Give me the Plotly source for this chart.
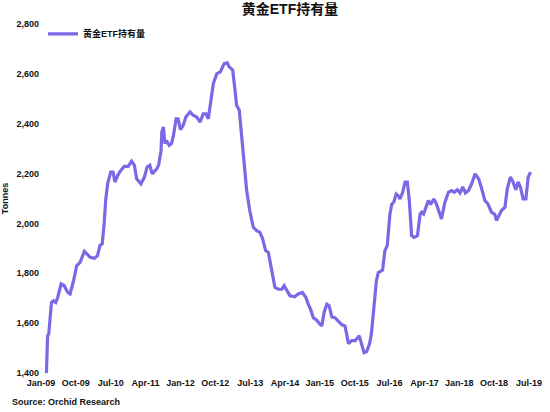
import plotly.graph_objects as go

# 月序号（0 = 2009年1月），按图上读取的点
month_idx = [
    1.4, 1.7, 2.0, 2.7, 3.2, 3.8, 4.3, 5.2, 6.0, 6.9, 7.5, 8.4, 9.2, 10.1,
    11.2, 11.8, 12.7, 13.8, 14.6, 15.2, 15.8, 16.3, 16.7, 17.2, 18.0, 18.6,
    19.1, 19.8, 20.6, 21.5, 22.5, 23.4, 24.1, 24.7, 25.8, 26.7, 27.4, 28.1,
    28.7, 29.9, 30.4, 31.0, 31.2, 31.6, 32.0, 32.4, 33.1, 33.7, 34.2, 34.9,
    35.4, 36.0, 36.7, 37.4, 38.5, 39.3, 40.2, 41.1, 41.9, 42.6, 43.2, 43.7,
    44.5, 45.4, 46.3, 47.3, 48.1, 48.6, 49.5, 50.1, 50.5, 51.2, 51.8, 52.4,
    53.1, 53.9, 54.8, 55.7, 56.5, 57.2, 58.0, 58.7, 59.6, 60.4, 61.3, 62.2,
    62.8, 63.5, 64.3, 65.5, 66.4, 67.5, 68.4, 69.0, 69.6, 70.3, 71.2, 72.0,
    72.5, 73.1, 73.8, 74.4, 75.1, 75.9, 76.8, 77.7, 78.5, 79.4, 80.3, 81.1,
    82.2, 82.7, 83.4, 84.1, 84.8, 85.3, 86.0, 86.6, 87.1, 88.2, 88.8, 89.4,
    90.1, 90.6, 91.1, 91.7, 92.3, 92.7, 93.4, 94.0, 94.6, 95.1, 95.7, 96.3,
    97.2, 97.9, 98.3, 98.8, 99.4, 100.0, 100.6, 101.4, 102.1, 103.0, 103.4,
    104.3, 105.2, 106.0, 106.7, 107.5, 108.2, 108.9, 109.6, 110.4, 111.2,
    112.1, 113.0, 113.8, 114.6, 115.4, 116.3, 117.2, 117.6, 118.2, 118.9,
    119.8, 120.4, 121.2, 121.9, 122.6, 123.2, 123.8, 124.5, 125.2, 125.8, 126.4,
]

tonnes = [
    1400, 1549, 1557, 1683, 1690, 1683, 1703, 1757, 1750, 1723, 1717, 1770, 1830, 1844,
    1888, 1877, 1864, 1860, 1871, 1911, 1918, 1998, 2092, 2159, 2206, 2206,
    2166, 2193, 2213, 2229, 2229, 2250, 2233, 2179, 2159, 2186, 2226, 2233,
    2199, 2219, 2236, 2293, 2367, 2387, 2320, 2333, 2313, 2320, 2353, 2420,
    2420, 2376, 2393, 2427, 2447, 2434, 2427, 2407, 2440, 2440, 2420, 2474,
    2561, 2601, 2608, 2641, 2644, 2628, 2615, 2534, 2474, 2454, 2347, 2226,
    2132, 2052, 1985, 1971, 1964, 1940, 1891, 1884, 1810, 1743, 1736, 1736,
    1750, 1730, 1710, 1706, 1717, 1723, 1703, 1676, 1656, 1622, 1612, 1596,
    1589, 1643, 1676, 1670, 1625, 1622, 1609, 1593, 1589, 1518, 1531, 1529,
    1549, 1522, 1482, 1486, 1515, 1555, 1663, 1770, 1803, 1813, 1891, 1911,
    2038, 2078, 2085, 2118, 2110, 2098, 2125, 2166, 2166, 2092, 1951, 1944,
    1951, 2038, 2045, 2038, 2065, 2092, 2076, 2098, 2078, 2031, 2018,
    2085, 2125, 2132, 2125, 2135, 2122, 2146, 2122, 2132, 2159,
    2199, 2179, 2139, 2092, 2078, 2045, 2036, 2012, 2030, 2052,
    2065, 2139, 2186, 2166, 2135, 2166, 2146, 2098, 2098, 2186, 2206,
]

tick_months = [0, 9, 18, 27, 36, 45, 54, 63, 72, 81, 90, 99, 108, 117, 126]
tick_labels = ["Jan-09", "Oct-09", "Jul-10", "Apr-11", "Jan-12", "Oct-12", "Jul-13",
               "Apr-14", "Jan-15", "Oct-15", "Jul-16", "Apr-17", "Jan-18", "Oct-18", "Jul-19"]

FONT = "Liberation Sans, Arial, Noto Sans CJK SC, sans-serif"

fig = go.Figure()
fig.add_trace(
    go.Scatter(
        dict(mode='lines',
             name='黄金ETF持有量',
             x=month_idx,
             y=tonnes,
             line_color='#7b68e6',
             line_width=3.2)
    )
)

fig.update_xaxes(range=[-0.26, 128.85], tickvals=tick_months, ticktext=tick_labels,
                 showgrid=False, zeroline=False, showline=False, ticks="",
                 automargin=False, ticklabelstandoff=3,
                 tickfont=dict(size=9, color="#111", weight="bold"))
fig.update_yaxes(range=[1400, 2800], dtick=200, tickformat=",",
                 showgrid=False, zeroline=False, showline=False, ticks="",
                 automargin=False,
                 tickfont=dict(size=9, color="#111", weight="bold"),
                 title=dict(text="Tonnes", standoff=6,
                            font=dict(size=9, color="#111", weight="bold")))
fig.update_layout(
    width=550, height=412,
    margin=dict(l=40, r=10, t=24, b=39),
    template="plotly_white",
    plot_bgcolor="white", paper_bgcolor="white",
    font=dict(family=FONT),
    title=dict(text="黄金ETF持有量", x=0.5, xref="paper", y=0.978, yanchor="middle",
               font=dict(size=14, color="#111", weight="bold")),
    showlegend=True,
    legend=dict(x=0.006, y=1.013, xanchor="left", yanchor="top",
                bgcolor="rgba(0,0,0,0)",
                font=dict(size=9, color="#111", weight="bold")),
)
fig.add_annotation(text="Source: Orchid Research", xref="paper", yref="paper",
                   x=-0.06, y=-0.083, xanchor="left", yanchor="middle", showarrow=False,
                   font=dict(size=9, color="#111", weight="bold"))

# 页面默认 body 有 8px 边距，去掉
fig.write_html("out.html", config={"displayModeBar": False},
               post_script="document.body.style.margin='0px';")
